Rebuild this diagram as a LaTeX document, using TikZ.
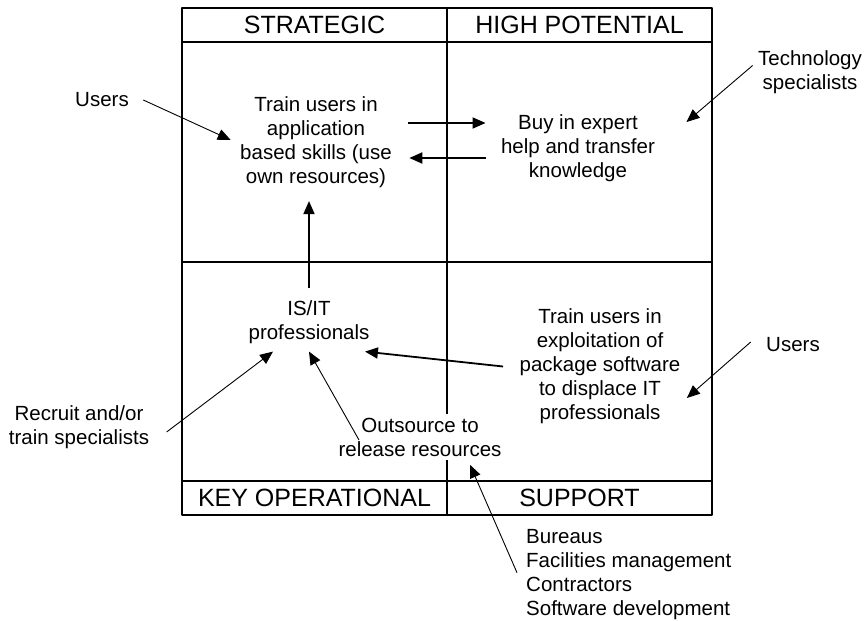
\documentclass[tikz,border=0pt]{standalone}
\usepackage{fontspec}
\setmainfont{Liberation Sans}
\usetikzlibrary{arrows.meta}
\tikzset{
  quad/.style={line width=1.8pt},
  txt/.style={align=center,font=\fontsize{20.5}{24}\selectfont},
  head/.style={font=\fontsize{25}{30}\selectfont},
  arr/.style={-{Triangle[length=13pt,width=11pt]},line width=.9pt},
  fatarr/.style={arr,line width=1.8pt}
}
\begin{document}
\begin{tikzpicture}[x=1pt,y=-1pt,line join=round]
\useasboundingbox (0,0) rectangle (868,621);
% the four quadrants
\draw[quad] (182,8) rectangle (712,515) (447,8) -- (447,515);
\foreach \y in {42,262,481} \draw[quad] (182,\y) -- (712,\y);
\node[head] (strat) at (314.5,25) {STRATEGIC};
\node[head] (high) at (579.5,25) {HIGH POTENTIAL};
\node[head] (key) at (314.5,498) {KEY OPERATIONAL};
\node[head] (supp) at (579.5,498) {SUPPORT};
% texts
\node[txt] (train) at (316,142) {Train users in\\application\\based skills (use\\own resources)};
\node[txt] (buy) at (578,148) {Buy in expert\\help and transfer\\knowledge};
\node[txt] (isit) at (309,322.5) {IS/IT\\professionals};
\node[txt] (exploit) at (600,366.5) {Train users in\\exploitation of\\package software\\to displace IT\\professionals};
\node[txt,fill=white] (outs) at (420,437) {Outsource to\\release resources};
\node[txt] (recruit) at (79,427) {Recruit and/or\\train specialists};
\node[txt] (usersA) at (102,100) {Users};
\node[txt] (usersB) at (793,345) {Users};
\node[txt] (tech) at (810,72.5) {Technology\\specialists};
\node[txt,align=left,anchor=north west,inner sep=0pt] (bureau) at (526,529.3) {Bureaus\\Facilities management\\Contractors\\Software development};
% arrows
\draw[arr] ([xshift=11pt]usersA.east) -- ([xshift=-6pt,yshift=2pt]train.west);
\draw[fatarr] ([xshift=13pt,yshift=19pt]train.east) -- ([xshift=-12pt,yshift=25pt]buy.west);
\draw[fatarr] ([xshift=-12pt,yshift=-10pt]buy.west) -- ([xshift=14pt,yshift=-16pt]train.east);
\draw[arr] ([xshift=-2pt,yshift=7pt]tech.west) -- ([xshift=28pt,yshift=26pt]buy.east);
\draw[fatarr,shorten <=9pt,shorten >=10pt] (isit.north) -- (isit.north |- train.south);
\draw[arr] ([xshift=14pt,yshift=-5pt]recruit.east) -- ([xshift=-36pt,yshift=-4pt]isit.south);
\draw[arr] ([xshift=24pt,yshift=-3pt]outs.west) -- ([yshift=-4pt]isit.south);
\draw[fatarr] ([xshift=-13pt]exploit.west) -- ([xshift=-8pt,yshift=-4pt]isit.south east);
\draw[arr] ([xshift=-12pt,yshift=3pt]usersB.west) -- ([xshift=3pt,yshift=-31.5pt]exploit.east);
\draw[arr] ([xshift=-9pt,yshift=2pt]bureau.west) -- ([xshift=50pt,yshift=-5pt]outs.south);
\end{tikzpicture}
\end{document}
